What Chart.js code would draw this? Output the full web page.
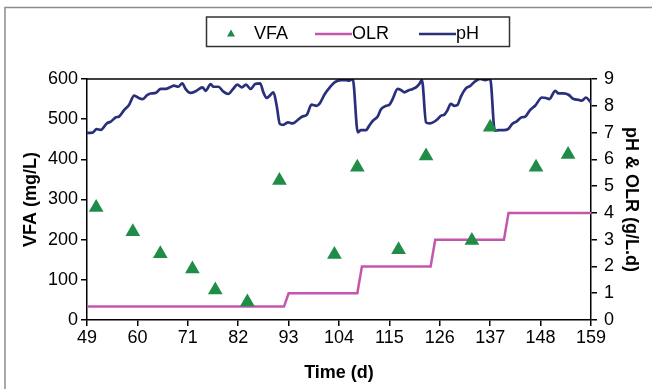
<!DOCTYPE html>
<html>
<head>
<meta charset="utf-8">
<script src="https://cdn.jsdelivr.net/npm/chart.js@4.4.1/dist/chart.umd.min.js"></script>
<style>
  html, body { margin: 0; padding: 0; background: #fff; }
  #wrap { width: 652px; height: 389px; position: relative; }
</style>
</head>
<body>
<div id="wrap"><canvas id="c"></canvas></div>
<script>
// ---- data ----
const xTicks = [49, 60, 71, 82, 93, 104, 115, 126, 137, 148, 159];
const vfaDays = [51, 59, 65, 72, 77, 84, 91, 103, 108, 117, 123, 133, 137, 147, 154];
const vfaValues = [280, 220, 165, 127, 75, 45, 347, 163, 380, 175, 408, 198, 480, 380, 412];
const olrDays = [49, 92, 93, 108, 109, 124, 125, 140, 141, 159];
const olrValues = [0.5, 0.5, 1, 1, 2, 2, 3, 3, 4, 4];
const phDays = [49, 50.2, 51.1, 52, 53.3, 54.2, 55.3, 56, 57.1, 58.2, 59.3, 60.3, 61.1, 62.2, 62.9, 64,
  65.1, 66.2, 67.1, 68, 68.9, 69.8, 70.5, 71.6, 72.7, 74.2, 74.9, 76, 76.6, 77.7, 78.7, 79.8, 80.9,
  81.8, 82.8, 83.7, 84.7, 85.7, 86.8, 87.5, 88.2, 88.9, 89.7, 90.4, 91.1, 91.8, 92.9, 93.9, 94.8,
  95.9, 97, 98, 99.1, 99.8, 100.9, 102, 103.1, 104.4, 105.5, 106.2, 107, 108.1, 108.8, 109.9, 110.6,
  111.4, 112.4, 113.2, 114.3, 115, 115.7, 116.8, 117.5, 118.3, 119, 120.1, 120.8, 121.5, 122.1, 123,
  123.7, 124.5, 125.5, 126.3, 127, 127.7, 128.4, 129.2, 129.9, 130.6, 131.6, 132.7, 133.7, 134.8,
  135.9, 137, 138, 138.9, 139.9, 140.9, 141.8, 142.8, 143.9, 144.6, 145.7, 146.8, 148.3, 149.2,
  149.9, 151.2, 151.9, 153, 154.1, 155.2, 156.3, 157, 157.9, 158.8, 159];
const phValues = [6.99, 7.0, 7.13, 7.1, 7.34, 7.41, 7.57, 7.6, 7.84, 8.04, 8.38, 8.29, 8.25, 8.41, 8.46, 8.48,
  8.63, 8.63, 8.69, 8.75, 8.71, 8.84, 8.63, 8.48, 8.54, 8.69, 8.56, 8.81, 8.71, 8.71, 8.54, 8.44, 8.63,
  8.79, 8.69, 8.79, 8.63, 8.81, 8.84, 8.5, 8.29, 8.38, 8.5, 8.0, 7.32, 7.29, 7.38, 7.34, 7.44,
  7.59, 7.67, 8.04, 8.0, 8.09, 8.44, 8.69, 8.88, 8.96, 8.96, 8.94, 9.0, 7.01, 7.09, 7.09, 7.26,
  7.44, 7.59, 7.88, 8.0, 8.04, 8.25, 8.63, 8.59, 8.5, 8.56, 8.63, 8.69, 8.81, 8.96, 7.38,
  7.34, 7.38, 7.5, 7.63, 7.67, 7.84, 8.07, 8.0, 8.04, 8.34, 8.63, 8.75, 8.91, 9.0,
  8.96, 9.0, 7.07, 7.09, 7.09, 7.13, 7.32, 7.42, 7.57, 7.59, 7.84, 8.0, 8.31, 8.29,
  8.25, 8.56, 8.46, 8.46, 8.41, 8.25, 8.22, 8.19, 8.31, 8.16, 8.12];

const GREEN = '#1f8c47', PINK = '#c257ad', NAVY = '#2a2f7c';
const FONT = '"Liberation Sans", Arial, sans-serif';

const pairs = (xs, ys) => xs.map((x, i) => ({ x: x, y: ys[i] }));

const decor = {
  id: 'decor',
  afterDraw(chart) {
    const ctx = chart.ctx, a = chart.chartArea;
    ctx.save();
    // outer frame
    ctx.strokeStyle = '#8c8c8c'; ctx.lineWidth = 1.5;
    ctx.strokeRect(5, 7.5, 700, 450);
    // top border of plot area
    ctx.strokeStyle = '#000'; ctx.lineWidth = 1.5;
    ctx.beginPath(); ctx.moveTo(a.left, a.top); ctx.lineTo(a.right, a.top); ctx.stroke();
    // legend box
    ctx.strokeStyle = '#333'; ctx.lineWidth = 1.5;
    ctx.strokeRect(206.5, 17, 303, 29.5);
    const ds = chart.data.datasets;
    ctx.font = '18px ' + FONT; ctx.fillStyle = '#000'; ctx.textBaseline = 'alphabetic';
    // VFA marker
    ctx.fillStyle = GREEN;
    ctx.beginPath(); ctx.moveTo(231, 29.5); ctx.lineTo(235, 36.5); ctx.lineTo(227, 36.5); ctx.closePath(); ctx.fill();
    ctx.fillStyle = '#000'; ctx.fillText(ds[0].label, 254, 39);
    // OLR
    ctx.strokeStyle = PINK; ctx.lineWidth = 2.5;
    ctx.beginPath(); ctx.moveTo(315, 34); ctx.lineTo(352, 34); ctx.stroke();
    ctx.fillText(ds[1].label, 352, 39);
    // pH
    ctx.strokeStyle = NAVY;
    ctx.beginPath(); ctx.moveTo(419, 34); ctx.lineTo(456, 34); ctx.stroke();
    ctx.fillText(ds[2].label, 456, 39);
    ctx.restore();
  }
};

const tickGrid = { display: true, drawOnChartArea: false, drawTicks: true, tickLength: 6, color: '#000', lineWidth: 1.5 };
const border = { display: true, color: '#000', width: 1.5 };
const titleFont = { family: FONT, size: 18, weight: 'bold' };
const tickFont = { family: FONT, size: 18 };

new Chart(document.getElementById('c'), {
  data: {
    datasets: [
      { type: 'scatter', label: 'VFA', data: pairs(vfaDays, vfaValues), yAxisID: 'y',
        pointStyle: 'triangle', pointRadius: 8.5, pointHoverRadius: 8.5,
        backgroundColor: GREEN, borderColor: GREEN, borderWidth: 0, order: 0 },
      { type: 'line', label: 'OLR', data: pairs(olrDays, olrValues), yAxisID: 'y1',
        borderColor: PINK, borderWidth: 2.5, pointRadius: 0, tension: 0, fill: false, order: 2 },
      { type: 'line', label: 'pH', data: pairs(phDays, phValues), yAxisID: 'y1',
        borderColor: NAVY, borderWidth: 2.7, pointRadius: 0, tension: 0.4,
        cubicInterpolationMode: 'monotone', fill: false, order: 1 }
    ]
  },
  options: {
    responsive: true, maintainAspectRatio: false, animation: false,
    layout: { padding: { top: 79, left: 16, right: 6, bottom: 1 } },
    plugins: { legend: { display: false }, tooltip: { enabled: false } },
    scales: {
      x: {
        type: 'linear', min: 49, max: 159,
        afterBuildTicks: s => { s.ticks = xTicks.map(v => ({ value: v })); },
        afterFit: s => { s.height = 68; },
        ticks: { font: tickFont, color: '#000', padding: 1, maxRotation: 0, autoSkip: false },
        grid: tickGrid, border: border,
        title: { display: true, text: 'Time (d)', font: titleFont, color: '#000', padding: { top: 4, bottom: 4 } }
      },
      y: {
        type: 'linear', position: 'left', min: 0, max: 600,
        ticks: { stepSize: 100, font: tickFont, color: '#000', padding: 3 },
        afterFit: s => { s.width = 71; },
        grid: tickGrid, border: border,
        title: { display: true, text: 'VFA (mg/L)', font: titleFont, color: '#000', padding: { top: 4, bottom: 4 } }
      },
      y1: {
        type: 'linear', position: 'right', min: 0, max: 9,
        ticks: { stepSize: 1, font: tickFont, color: '#000', padding: 7 },
        afterFit: s => { s.width = 55; },
        grid: tickGrid, border: border,
        title: { display: true, text: 'pH & OLR (g/L.d)', font: titleFont, color: '#000', padding: { top: 4, bottom: 4 } }
      }
    }
  },
  plugins: [decor]
});
</script>
</body>
</html>
